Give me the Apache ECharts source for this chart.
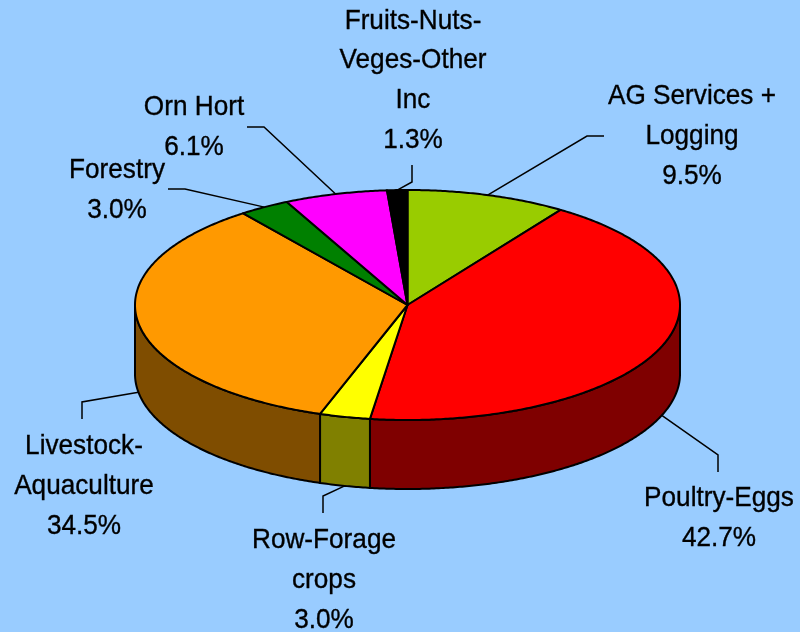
<!DOCTYPE html>
<html><head><meta charset="utf-8">
<style>html,body{margin:0;padding:0;background:#99CCFF}#c{width:800px;height:632px}</style>
<script src="https://cdn.jsdelivr.net/npm/echarts@6/dist/echarts.min.js"></script>
</head><body><div id="c"></div>
<script>
const categories = ['AG Services +\nLogging','Poultry-Eggs','Row-Forage\ncrops','Livestock-\nAquaculture','Forestry','Orn Hort','Fruits-Nuts-\nVeges-Other\nInc'];
const shares = [9.5,42.7,3.0,34.5,3.0,6.1,1.3];
const topColors = ['#99CC00','#FF0000','#FFFF00','#FF9900','#008000','#FF00FF','#000000'];
const wallColors = ['#4D6600','#7F0000','#808000','#7F4D00','#004000','#800080','#000000'];

// Layout of the tilted pie and of the callouts (not data)
const pie = {cx:407.5, cy:305, rx:272.5, ry:115, depth:69};
const labelCentres = [[692,136.5],[719,518.5],[324,580.5],[84,486.5],[117,190.5],[194,127.5],[413,80.5]];
const leaderElbows = [[[604,136],[587,136]],[[718,472],[718,455]],[[323,513],[323,496]],[[82,419],[82,402]],[[168,189],[185,189]],[[247,127],[264,127]],[[412,165],[412,182]]];

const total = 100; // shown shares are rounded and add to 100.1
function startOf(i){let s=0;for(let k=0;k<i;k++)s+=shares[k];return s/total*360;}
function pt(deg,dz){const r=deg*Math.PI/180;return [pie.cx+pie.rx*Math.sin(r),pie.cy-pie.ry*Math.cos(r)+(dz||0)];}
function arc(a,b,dz){const n=Math.max(2,Math.ceil(Math.abs(b-a)*2)),o=[];for(let j=0;j<=n;j++)o.push(pt(a+(b-a)*j/n,dz));return o;}

function renderWall(params,api){
  const i=params.dataIndex,a=startOf(i),b=a+api.value(0)/total*360;
  const lo=Math.max(a,90),hi=Math.min(b,270);
  if(hi<=lo)return {type:'group',children:[]};
  return {type:'polygon',z2:1,shape:{points:arc(lo,hi,0).concat(arc(hi,lo,pie.depth))},
    style:{fill:wallColors[i],stroke:'#000',lineWidth:2,lineJoin:'round'}};
}
function renderTop(params,api){
  const i=params.dataIndex,a=startOf(i),b=Math.min(360,a+api.value(0)/total*360),m=(a+b)/2;
  const visibleFront=m>90&&m<270;
  const anchor=pt(m,visibleFront?pie.depth:0);
  const elbow=leaderElbows[i];
  return {type:'group',children:[
    {type:'polygon',z2:2,shape:{points:[[pie.cx,pie.cy]].concat(arc(a,b,0))},
     style:{fill:topColors[i],stroke:'#000',lineWidth:2,lineJoin:'round'}},
    {type:'polyline',z2:3,shape:{points:[elbow[0],elbow[1],anchor]},
     style:{fill:null,stroke:'#000',lineWidth:1.5}},
    {type:'text',z2:4,x:labelCentres[i][0],y:labelCentres[i][1],scaleX:0.935,
     style:{text:categories[i]+'\n'+api.value(0).toFixed(1)+'%',fill:'#000',stroke:'#000',lineWidth:0.35,
       font:'28px "Liberation Sans", Arial, sans-serif',lineHeight:39.8,
       align:'center',verticalAlign:'middle'}}
  ]};
}
const chart=echarts.init(document.getElementById('c'),null,{renderer:'canvas'});
chart.setOption({
  animation:false,
  backgroundColor:'#99CCFF',
  tooltip:{show:false},
  series:[
    {type:'custom',coordinateSystem:'none',silent:true,z:1,data:shares.map(v=>[v]),renderItem:renderWall},
    {type:'custom',coordinateSystem:'none',silent:true,z:2,data:shares.map(v=>[v]),renderItem:renderTop}
  ]
});
</script></body></html>
